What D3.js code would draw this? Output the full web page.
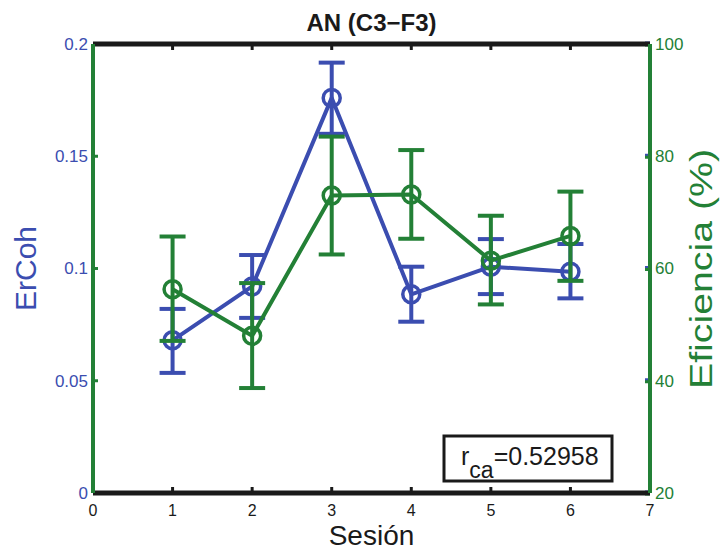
<!DOCTYPE html>
<html><head><meta charset="utf-8">
<script src="https://cdn.jsdelivr.net/npm/d3@7"></script>
<style>body{margin:0;background:#fff}svg{display:block;font-family:"Liberation Sans",Arial,sans-serif}</style>
</head><body><svg id="c" width="720" height="550"></svg>
<script>
const sessions = [1, 2, 3, 4, 5, 6];
const ercoh = [0.068, 0.092, 0.176, 0.0885, 0.1008, 0.0986];
const ercohLow = [0.0535, 0.078, 0.160, 0.0763, 0.0886, 0.0867];
const ercohHigh = [0.082, 0.106, 0.1917, 0.1008, 0.1131, 0.1109];
const efic = [56.3, 48.0, 73.0, 73.2, 61.4, 65.8];
const eficLow = [47.1, 38.7, 62.5, 65.3, 53.6, 57.8];
const eficHigh = [65.7, 57.4, 83.5, 81.1, 69.4, 73.7];
const xTicks = [0, 1, 2, 3, 4, 5, 6, 7];
const yLeftTicks = [0, 0.05, 0.1, 0.15, 0.2];
const yRightTicks = [20, 40, 60, 80, 100];
const corrText = "=0.52958";

const blue = "#3b4db0", green = "#238036", black = "#1a1a1a";
const L = 93, R = 650, T = 44, B = 493;
const svg = d3.select("#c");
const x = d3.scaleLinear().domain([0, 7]).range([L, R]);
const yL = d3.scaleLinear().domain([0, 0.2]).range([B, T]);
const yR = d3.scaleLinear().domain([20, 100]).range([B, T]);

// title
svg.append("text").attr("x", (L + R) / 2).attr("y", 31).attr("text-anchor", "middle")
  .attr("font-weight", "bold").attr("font-size", 24).attr("fill", black).text("AN (C3\u2212F3)");

// x axis ticks (bottom & top)
const g = svg.append("g");
xTicks.slice(1, -1).forEach(t => {
  g.append("line").attr("x1", x(t)).attr("x2", x(t)).attr("y1", B).attr("y2", B - 6).attr("stroke", black).attr("stroke-width", 3);
  g.append("line").attr("x1", x(t)).attr("x2", x(t)).attr("y1", T).attr("y2", T + 6).attr("stroke", black).attr("stroke-width", 3);
});
xTicks.forEach(t => {
  g.append("text").attr("x", x(t)).attr("y", 516).attr("text-anchor", "middle").attr("font-size", 16).attr("fill", black).text(t);
});
// left ticks
yLeftTicks.forEach(t => {
  g.append("line").attr("x1", L).attr("x2", L + 5).attr("y1", yL(t)).attr("y2", yL(t)).attr("stroke", green).attr("stroke-width", 3);
  g.append("line").attr("x1", R).attr("x2", R - 5).attr("y1", yL(t) - 1).attr("y2", yL(t) - 1).attr("stroke", blue).attr("stroke-width", 3);
  g.append("text").attr("x", L - 5).attr("y", yL(t)).attr("dy", "0.35em").attr("text-anchor", "end").attr("font-size", 17).attr("fill", blue).text(t);
});
yRightTicks.forEach(t => {
  g.append("line").attr("x1", R).attr("x2", R - 5).attr("y1", yR(t) + 1).attr("y2", yR(t) + 1).attr("stroke", green).attr("stroke-width", 3);
  g.append("text").attr("x", R + 5).attr("y", yR(t)).attr("dy", "0.35em").attr("text-anchor", "start").attr("font-size", 17).attr("fill", green).text(t);
});

// frame
g.append("line").attr("x1", L).attr("x2", R).attr("y1", T).attr("y2", T).attr("stroke", black).attr("stroke-width", 5);
g.append("line").attr("x1", L).attr("x2", R).attr("y1", B).attr("y2", B).attr("stroke", black).attr("stroke-width", 5);
g.append("line").attr("x1", L).attr("x2", L).attr("y1", T).attr("y2", B).attr("stroke", green).attr("stroke-width", 4);
g.append("line").attr("x1", R).attr("x2", R).attr("y1", T).attr("y2", B).attr("stroke", green).attr("stroke-width", 4);

// axis labels
svg.append("text").attr("x", (L + R) / 2).attr("y", 545).attr("text-anchor", "middle").attr("font-size", 28).attr("fill", black).text("Sesi\u00f3n");
svg.append("text").attr("transform", `translate(36,${(T + B) / 2}) rotate(-90)`).attr("text-anchor", "middle").attr("font-size", 30).attr("fill", blue).text("ErCoh");
svg.append("text").attr("transform", `translate(712,269) rotate(-90)`).attr("text-anchor", "middle").attr("font-size", 31)
  .attr("textLength", 240).attr("lengthAdjust", "spacingAndGlyphs").attr("fill", green).text("Eficiencia (%)");

function series(vals, lo, hi, y, color) {
  const s = svg.append("g");
  const cap = 13;
  sessions.forEach((d, i) => {
    s.append("line").attr("x1", x(d)).attr("x2", x(d)).attr("y1", y(lo[i])).attr("y2", y(hi[i])).attr("stroke", color).attr("stroke-width", 4);
    [lo[i], hi[i]].forEach(v => s.append("line").attr("x1", x(d) - cap).attr("x2", x(d) + cap).attr("y1", y(v)).attr("y2", y(v)).attr("stroke", color).attr("stroke-width", 4));
  });
  s.append("path").datum(vals).attr("d", d3.line().x((d, i) => x(sessions[i])).y(d => y(d)))
    .attr("fill", "none").attr("stroke", color).attr("stroke-width", 4).attr("stroke-linejoin", "round");
  s.selectAll("circle").data(vals).join("circle").attr("cx", (d, i) => x(sessions[i])).attr("cy", d => y(d)).attr("r", 8.5)
    .attr("fill", "none").attr("stroke", color).attr("stroke-width", 3.5);
}
series(ercoh, ercohLow, ercohHigh, yL, blue);
series(efic, eficLow, eficHigh, yR, green);

// correlation box
const bx = svg.append("g");
bx.append("rect").attr("x", 444).attr("y", 436).attr("width", 168).attr("height", 45).attr("fill", "#fff").attr("stroke", black).attr("stroke-width", 3);
const tx = bx.append("text").attr("x", 461).attr("y", 465).attr("font-size", 25).attr("fill", black);
tx.append("tspan").text("r");
tx.append("tspan").attr("dy", 13).attr("font-size", 23).text("ca");
tx.append("tspan").attr("dy", -13).text(corrText);
</script></body></html>
